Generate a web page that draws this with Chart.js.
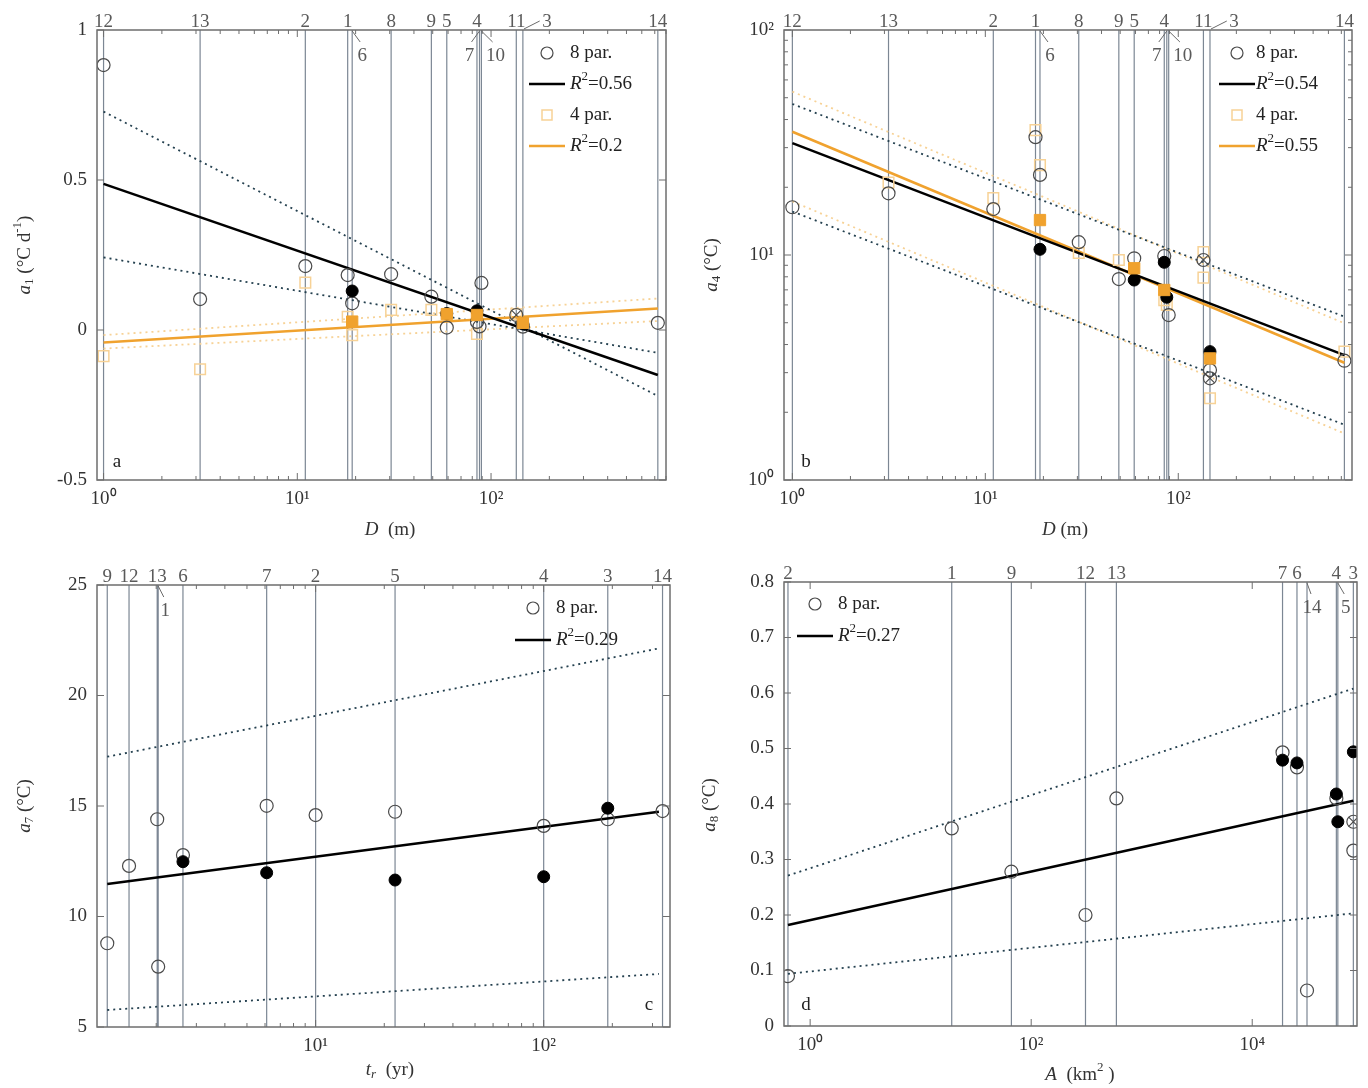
<!DOCTYPE html>
<html>
<head>
<meta charset="utf-8">
<script src="https://cdn.jsdelivr.net/npm/chart.js@4.4.0/dist/chart.umd.min.js"></script>
<style>
  body { margin: 0; background: #fff; }
  .panel { position: absolute; width: 684px; height: 544px; }
</style>
</head>
<body>
<div class="panel" style="left:0;top:0"><canvas id="panelA" width="684" height="544"></canvas></div>
<div class="panel" style="left:684px;top:0"><canvas id="panelB" width="684" height="544"></canvas></div>
<div class="panel" style="left:0;top:544px"><canvas id="panelC" width="684" height="544"></canvas></div>
<div class="panel" style="left:684px;top:544px"><canvas id="panelD" width="684" height="544"></canvas></div>
<script>
// Stations ordered by depth D (m), used by panels a and b
const stationsD = ['12', '13', '2', '1', '6', '8', '9', '5', '4', '7', '10', '11', '3', '14'];
const depthD = [1.0, 3.15, 11.0, 18.2, 19.2, 30.5, 49.2, 59.1, 84.6, 87.2, 89.2, 135, 146, 726];
const fitXD = [1.0, 726];

// a1 (°C d-1), one value per station, null = no marker
const a1Open8 = [0.883, 0.103, 0.213, 0.183, 0.089, 0.186, 0.111, 0.008, 0.027, 0.012, 0.157, null, 0.011, 0.024];
const a1Cross8 = [null, null, null, null, null, null, null, null, null, null, null, 0.050, null, null];
const a1Fill8 = [null, null, null, null, 0.130, null, null, 0.055, 0.064, null, null, null, 0.020, null];
const a1Open4 = [-0.087, -0.131, 0.158, 0.044, -0.017, 0.067, 0.067, null, -0.013, null, null, 0.053, null, null];
const a1Fill4 = [null, null, null, null, 0.028, null, null, 0.053, 0.050, null, null, null, 0.024, null];
const a1Fit8 = [0.487, -0.150];
const a1Band8A = [0.728, -0.220];
const a1Band8B = [0.242, -0.076];
const a1Fit4 = [-0.042, 0.072];
const a1Band4A = [-0.017, 0.105];
const a1Band4B = [-0.062, 0.030];

// a4 (°C)
const b4Open8 = [16.3, 18.8, 16.0, 33.4, 22.7, 11.4, 7.82, 9.67, 9.9, null, 5.41, null, 3.08, 3.39];
const b4Cross8 = [null, null, null, null, null, null, null, null, null, null, null, 9.5, 2.83, null];
const b4Fill8 = [null, null, null, null, 10.6, null, null, 7.74, 9.28, 6.49, null, null, 3.72, null];
const b4Open4 = [null, 21.0, 17.9, 35.9, 25.1, 10.2, 9.5, null, 6.3, 6.0, null, 10.3, 2.31, 3.72];
const b4Open4b = [null, null, null, null, null, null, null, null, null, null, null, 7.93, null, null];
const b4Fill4 = [null, null, null, null, 14.3, null, null, 8.73, 6.99, null, null, null, 3.47, null];
const b4Fit8 = [31.4, 3.59];
const b4Band8Up = [46.9, 5.32];
const b4Band8Lo = [15.6, 1.76];
const b4Fit4 = [35.3, 3.32];
const b4Band4Up = [53.2, 4.97];
const b4Band4Lo = [17.3, 1.61];

// a7 (°C) against residence time tr (yr)
const stationsT = ['9', '12', '13', '1', '6', '7', '2', '5', '4', '3', '14'];
const residenceT = [1.22, 1.52, 2.02, 2.04, 2.62, 6.1, 10.0, 22.3, 100, 191, 332];
const c7Open8 = [8.79, 12.29, 14.40, 7.73, 12.78, 15.01, 14.59, 14.74, 14.10, 14.40, 14.77];
const c7Fill8 = [null, null, null, null, 12.48, 11.98, null, 11.65, 11.80, 14.90, null];
const fitXT = [1.22, 320];
const c7Fit8 = [11.47, 14.74];
const c7BandUp = [17.23, 22.13];
const c7BandLo = [5.77, 7.40];

// a8 (°C) against catchment area A (km2)
const stationsA = ['2', '1', '9', '12', '13', '7', '6', '14', '4', '5', '3'];
const areaA = [0.63, 19.1, 66.2, 310, 590, 18800, 25400, 31300, 57700, 59500, 82200];
const d8Open8 = [0.090, 0.356, 0.278, 0.200, 0.410, 0.493, 0.466, 0.064, 0.410, null, 0.316];
const d8Cross8 = [null, null, null, null, null, null, null, null, null, null, 0.368];
const d8Fill8 = [null, null, null, null, null, 0.479, 0.474, null, 0.418, 0.368, 0.494];
const fitXA = [0.63, 82200];
const d8Fit8 = [0.182, 0.406];
const d8BandUp = [0.271, 0.608];
const d8BandLo = [0.094, 0.203];

Chart.defaults.font.family = '"Liberation Serif", "Times New Roman", serif';
Chart.defaults.font.size = 19;
Chart.defaults.color = '#333';

const FONT = '"Liberation Serif", "Times New Roman", serif';
const SUP = { '0': '⁰', '1': '¹', '2': '²', '3': '³', '4': '⁴' };
const ORANGE = '#f0a22e';
const ORANGE_LIGHT = '#f7d296';
const DOTS = '#24404f';

function pts(xs, ys) {
    return xs.map((x, i) => ({ x: x, y: ys[i] })).filter(p => p.y !== null);
}

function stationLines(xs, yMin, yMax) {
    const d = [];
    xs.forEach(x => d.push({ x: x, y: yMin }, { x: x, y: yMax }, { x: x, y: null }));
    return d;
}

// log ticks; minors = include 2..9, step = decades between majors
function logTicks(min, max, minors, step) {
    const t = [];
    for (let e = Math.floor(Math.log10(min)); e <= Math.ceil(Math.log10(max)); e++) {
        if (step && e % step !== 0) continue;
        for (let m = 1; m < 10; m++) {
            if (!minors && m > 1) continue;
            const v = m * Math.pow(10, e);
            if (v >= min && v <= max) t.push({ value: v, major: m === 1 });
        }
    }
    return t;
}

function powLabel(v) {
    const e = Math.log10(v);
    if (Math.abs(e - Math.round(e)) > 1e-6) return '';
    return '10' + SUP[String(Math.round(e))];
}

// text made of parts: [text, style] with style '', 'i', 'sub', 'sup', 'isub'
function richText(ctx, parts, x, y, align) {
    const fontFor = s => {
        const small = s.indexOf('sub') >= 0 || s.indexOf('sup') >= 0;
        return (s.indexOf('i') === 0 ? 'italic ' : '') + (small ? 13 : 19) + 'px ' + FONT;
    };
    let w = 0;
    parts.forEach(p => { ctx.font = fontFor(p[1]); w += ctx.measureText(p[0]).width; });
    let cx = align === 'center' ? x - w / 2 : x;
    ctx.textAlign = 'left';
    ctx.textBaseline = 'middle';
    parts.forEach(p => {
        ctx.font = fontFor(p[1]);
        const dy = p[1].indexOf('sub') >= 0 ? 5 : p[1].indexOf('sup') >= 0 ? -7 : 0;
        ctx.fillText(p[0], cx, y + dy);
        cx += ctx.measureText(p[0]).width;
    });
}

// dataset styles
const open8 = data => ({ data, pointStyle: 'circle', pointRadius: 6.5, borderColor: '#4a4a4a', backgroundColor: 'rgba(0,0,0,0)', borderWidth: 1.2, order: 2 });
const crossMark = data => ({ data, pointStyle: 'crossRot', pointRadius: 6.5, borderColor: '#4a4a4a', borderWidth: 1.1, order: 2 });
const fill8 = data => ({ data, pointStyle: 'circle', pointRadius: 6, borderColor: '#000', backgroundColor: '#000', borderWidth: 1, order: 1 });
const open4 = data => ({ data, pointStyle: 'rect', pointRadius: 7.5, borderColor: ORANGE_LIGHT, backgroundColor: 'rgba(0,0,0,0)', borderWidth: 1.5, order: 3 });
const fill4 = data => ({ data, pointStyle: 'rect', pointRadius: 8, borderColor: ORANGE, backgroundColor: ORANGE, borderWidth: 1, order: 0 });
const solid = (data, color) => ({ data, showLine: true, pointRadius: 0, borderColor: color, borderWidth: 2.5, order: 5 });
const dotted = (data, color) => ({ data, showLine: true, pointRadius: 0, borderColor: color, borderWidth: 1.8, borderDash: [2, 4], order: 6 });
const vlines = data => ({ data, showLine: true, pointRadius: 0, borderColor: '#7c8794', borderWidth: 1.2, spanGaps: false, order: 9 });

function makePanel(id, cfg) {
    const decor = {
        id: 'decor',
        afterDatasetsDraw(chart) {
            const { ctx, chartArea: ca, scales } = chart;
            ctx.save();
            ctx.strokeStyle = '#6e6e6e';
            ctx.lineWidth = 1.5;
            ctx.strokeRect(ca.left, ca.top, ca.right - ca.left, ca.bottom - ca.top);
            ctx.lineWidth = 1;
            ctx.beginPath();
            scales.x.ticks.forEach(t => {
                const px = scales.x.getPixelForValue(t.value);
                if (px < ca.left - 0.5 || px > ca.right + 0.5) return;
                const len = t.major ? 7 : 4;
                ctx.moveTo(px, ca.bottom); ctx.lineTo(px, ca.bottom - len);
                ctx.moveTo(px, ca.top); ctx.lineTo(px, ca.top + len);
            });
            scales.y.ticks.forEach(t => {
                const py = scales.y.getPixelForValue(t.value);
                if (py < ca.top - 0.5 || py > ca.bottom + 0.5) return;
                const len = (cfg.yLog && !t.major) ? 4 : 7;
                ctx.moveTo(ca.left, py); ctx.lineTo(ca.left + len, py);
                ctx.moveTo(ca.right, py); ctx.lineTo(ca.right - len, py);
            });
            ctx.stroke();
            ctx.restore();
        },
        afterDraw(chart) {
            const { ctx, chartArea: ca, scales } = chart;
            ctx.save();
            // station numbers on top
            ctx.font = '19px ' + FONT;
            ctx.fillStyle = '#5a5a5a';
            ctx.strokeStyle = '#6a6a6a';
            ctx.lineWidth = 1;
            ctx.textAlign = 'center';
            ctx.textBaseline = 'alphabetic';
            cfg.stationLabels.forEach((lab, i) => {
                const px = scales.x.getPixelForValue(cfg.stationX[i]);
                const sh = cfg.labelShift[lab];
                if (!sh) { ctx.fillText(lab, px, ca.top - 3); return; }
                ctx.beginPath();
                if (sh.below) {
                    ctx.moveTo(px, ca.top + 1);
                    ctx.lineTo(px + sh.dx * 0.8, ca.top + 12);
                    ctx.stroke();
                    ctx.fillText(lab, px + sh.dx, ca.top + 31);
                } else {
                    ctx.moveTo(px + 1, ca.top - 1);
                    ctx.lineTo(px + sh.dx * 0.7, ca.top - 9);
                    ctx.stroke();
                    ctx.fillText(lab, px + sh.dx, ca.top - 3);
                }
            });
            // axis titles
            ctx.fillStyle = '#333';
            richText(ctx, cfg.xTitle, cfg.xTitlePos[0], cfg.xTitlePos[1], 'center');
            ctx.save();
            ctx.translate(cfg.yTitlePos[0], cfg.yTitlePos[1]);
            ctx.rotate(-Math.PI / 2);
            richText(ctx, cfg.yTitle, 0, 0, 'center');
            ctx.restore();
            // panel letter
            ctx.font = '19px ' + FONT;
            ctx.fillStyle = '#222';
            ctx.textAlign = 'center';
            ctx.textBaseline = 'middle';
            const lx = cfg.letter.right ? ca.right - cfg.letter.dx : ca.left + cfg.letter.dx;
            ctx.fillText(cfg.letter.text, lx, ca.bottom - cfg.letter.dy);
            // legend
            const lg = cfg.legend;
            const mx = lg.fromRight ? ca.right + lg.mx : ca.left + lg.mx;
            const tx = lg.fromRight ? ca.right + lg.tx : ca.left + lg.tx;
            lg.items.forEach((it, k) => {
                const y = ca.top + lg.y0 + k * lg.gap;
                ctx.beginPath();
                if (it.kind === 'circle') {
                    ctx.strokeStyle = '#4a4a4a'; ctx.lineWidth = 1.2;
                    ctx.arc(mx, y, 6, 0, Math.PI * 2);
                    ctx.stroke();
                } else if (it.kind === 'square') {
                    ctx.strokeStyle = ORANGE_LIGHT; ctx.lineWidth = 1.5;
                    ctx.strokeRect(mx - 5, y - 5, 10, 10);
                } else {
                    ctx.strokeStyle = it.color; ctx.lineWidth = 2.5;
                    ctx.moveTo(mx - 18, y); ctx.lineTo(mx + 18, y);
                    ctx.stroke();
                }
                ctx.fillStyle = '#222';
                richText(ctx, it.text, tx, y, 'left');
            });
            ctx.restore();
        }
    };

    const yScale = cfg.yLog ? {
        type: 'logarithmic', min: cfg.yMin, max: cfg.yMax,
        afterBuildTicks: s => { s.ticks = logTicks(cfg.yMin, cfg.yMax, true); },
        ticks: { autoSkip: false, padding: 10, callback: powLabel }
    } : {
        type: 'linear', min: cfg.yMin, max: cfg.yMax,
        ticks: { stepSize: cfg.yStep, padding: 10, callback: v => String(+v.toFixed(2)) }
    };
    yScale.grid = { display: false, drawTicks: false };
    yScale.border = { display: false };
    yScale.afterFit = s => { s.width = cfg.leftW; };

    new Chart(document.getElementById(id), {
        type: 'scatter',
        data: { datasets: cfg.datasets },
        options: {
            responsive: false,
            animation: false,
            events: [],
            layout: { padding: { top: cfg.top, right: cfg.right, left: 0, bottom: 0 } },
            plugins: { legend: { display: false }, tooltip: { enabled: false } },
            scales: {
                x: {
                    type: 'logarithmic', min: cfg.xMin, max: cfg.xMax,
                    grid: { display: false, drawTicks: false },
                    border: { display: false },
                    afterBuildTicks: s => { s.ticks = logTicks(cfg.xMin, cfg.xMax, cfg.xMinors, cfg.xStep); },
                    afterFit: s => { s.height = cfg.bottomH; },
                    ticks: { autoSkip: false, maxRotation: 0, padding: 8, callback: powLabel }
                },
                y: yScale
            }
        },
        plugins: [decor]
    });
}

const r2 = v => [['R', 'i'], ['2', 'sup'], ['=' + v, '']];

// panel a
makePanel('panelA', {
    xMin: 0.925, xMax: 800, xMinors: true,
    yMin: -0.5, yMax: 1, yStep: 0.5,
    leftW: 97, top: 30, right: 18, bottomH: 64,
    stationX: depthD, stationLabels: stationsD,
    labelShift: { '6': { dx: 10, below: true }, '7': { dx: -10, below: true }, '10': { dx: 14, below: true }, '3': { dx: 24 } },
    xTitle: [['D', 'i'], ['  (m)', '']], xTitlePos: [390, 530],
    yTitle: [['a', 'i'], ['1', 'sub'], [' (°C d', ''], ['-1', 'sup'], [')', '']], yTitlePos: [25, 255],
    letter: { text: 'a', dx: 20, dy: 18 },
    legend: {
        fromRight: true, mx: -119, tx: -96, y0: 23, gap: 31,
        items: [
            { kind: 'circle', text: [['8 par.', '']] },
            { kind: 'line', color: '#000', text: r2('0.56') },
            { kind: 'square', text: [['4 par.', '']] },
            { kind: 'line', color: ORANGE, text: r2('0.2') }
        ]
    },
    datasets: [
        fill4(pts(depthD, a1Fill4)),
        fill8(pts(depthD, a1Fill8)),
        open8(pts(depthD, a1Open8)),
        open8(pts(depthD, a1Cross8)),
        crossMark(pts(depthD, a1Cross8)),
        open4(pts(depthD, a1Open4)),
        solid(pts(fitXD, a1Fit8), '#000'),
        solid(pts(fitXD, a1Fit4), ORANGE),
        dotted(pts(fitXD, a1Band8A), DOTS),
        dotted(pts(fitXD, a1Band8B), DOTS),
        dotted(pts(fitXD, a1Band4A), ORANGE_LIGHT),
        dotted(pts(fitXD, a1Band4B), ORANGE_LIGHT),
        vlines(stationLines(depthD, -0.5, 1))
    ]
});

// panel b
makePanel('panelB', {
    xMin: 0.905, xMax: 795, xMinors: true,
    yLog: true, yMin: 1, yMax: 100,
    leftW: 100, top: 30, right: 16, bottomH: 64,
    stationX: depthD, stationLabels: stationsD,
    labelShift: { '6': { dx: 10, below: true }, '7': { dx: -10, below: true }, '10': { dx: 14, below: true }, '3': { dx: 24 } },
    xTitle: [['D', 'i'], [' (m)', '']], xTitlePos: [381, 530],
    yTitle: [['a', 'i'], ['4', 'sub'], [' (°C)', '']], yTitlePos: [28, 265],
    letter: { text: 'b', dx: 22, dy: 18 },
    legend: {
        fromRight: true, mx: -115, tx: -96, y0: 23, gap: 31,
        items: [
            { kind: 'circle', text: [['8 par.', '']] },
            { kind: 'line', color: '#000', text: r2('0.54') },
            { kind: 'square', text: [['4 par.', '']] },
            { kind: 'line', color: ORANGE, text: r2('0.55') }
        ]
    },
    datasets: [
        fill4(pts(depthD, b4Fill4)),
        fill8(pts(depthD, b4Fill8)),
        open8(pts(depthD, b4Open8)),
        open8(pts(depthD, b4Cross8)),
        crossMark(pts(depthD, b4Cross8)),
        open4(pts(depthD, b4Open4)),
        open4(pts(depthD, b4Open4b)),
        solid(pts(fitXD, b4Fit8), '#000'),
        solid(pts(fitXD, b4Fit4), ORANGE),
        dotted(pts(fitXD, b4Band8Up), DOTS),
        dotted(pts(fitXD, b4Band8Lo), DOTS),
        dotted(pts(fitXD, b4Band4Up), ORANGE_LIGHT),
        dotted(pts(fitXD, b4Band4Lo), ORANGE_LIGHT),
        vlines(stationLines(depthD, 1, 100))
    ]
});

// panel c
makePanel('panelC', {
    xMin: 1.1, xMax: 358, xMinors: true,
    yMin: 5, yMax: 25, yStep: 5,
    leftW: 97, top: 41, right: 14, bottomH: 61,
    stationX: residenceT, stationLabels: stationsT,
    labelShift: { '1': { dx: 7, below: true } },
    xTitle: [['t', 'i'], ['r', 'isub'], ['  (yr)', '']], xTitlePos: [390, 526],
    yTitle: [['a', 'i'], ['7', 'sub'], [' (°C)', '']], yTitlePos: [25, 262],
    letter: { text: 'c', right: true, dx: 21, dy: 22 },
    legend: {
        fromRight: true, mx: -137, tx: -114, y0: 23, gap: 32,
        items: [
            { kind: 'circle', text: [['8 par.', '']] },
            { kind: 'line', color: '#000', text: r2('0.29') }
        ]
    },
    datasets: [
        fill8(pts(residenceT, c7Fill8)),
        open8(pts(residenceT, c7Open8)),
        solid(pts(fitXT, c7Fit8), '#000'),
        dotted(pts(fitXT, c7BandUp), DOTS),
        dotted(pts(fitXT, c7BandLo), DOTS),
        vlines(stationLines(residenceT, 5, 25))
    ]
});

// panel d
makePanel('panelD', {
    xMin: 0.58, xMax: 88700, xMinors: false, xStep: 2,
    yMin: 0, yMax: 0.8, yStep: 0.1,
    leftW: 100, top: 38, right: 11, bottomH: 62,
    stationX: areaA, stationLabels: stationsA,
    labelShift: { '14': { dx: 5, below: true }, '5': { dx: 8, below: true } },
    xTitle: [['A', 'i'], ['  (km', ''], ['2', 'sup'], [' )', '']], xTitlePos: [396, 531],
    yTitle: [['a', 'i'], ['8', 'sub'], [' (°C)', '']], yTitlePos: [26, 261],
    letter: { text: 'd', dx: 22, dy: 21 },
    legend: {
        fromRight: false, mx: 31, tx: 54, y0: 22, gap: 32,
        items: [
            { kind: 'circle', text: [['8 par.', '']] },
            { kind: 'line', color: '#000', text: r2('0.27') }
        ]
    },
    datasets: [
        fill8(pts(areaA, d8Fill8)),
        open8(pts(areaA, d8Open8)),
        open8(pts(areaA, d8Cross8)),
        crossMark(pts(areaA, d8Cross8)),
        solid(pts(fitXA, d8Fit8), '#000'),
        dotted(pts(fitXA, d8BandUp), DOTS),
        dotted(pts(fitXA, d8BandLo), DOTS),
        vlines(stationLines(areaA, 0, 0.8))
    ]
});
</script>
</body>
</html>
